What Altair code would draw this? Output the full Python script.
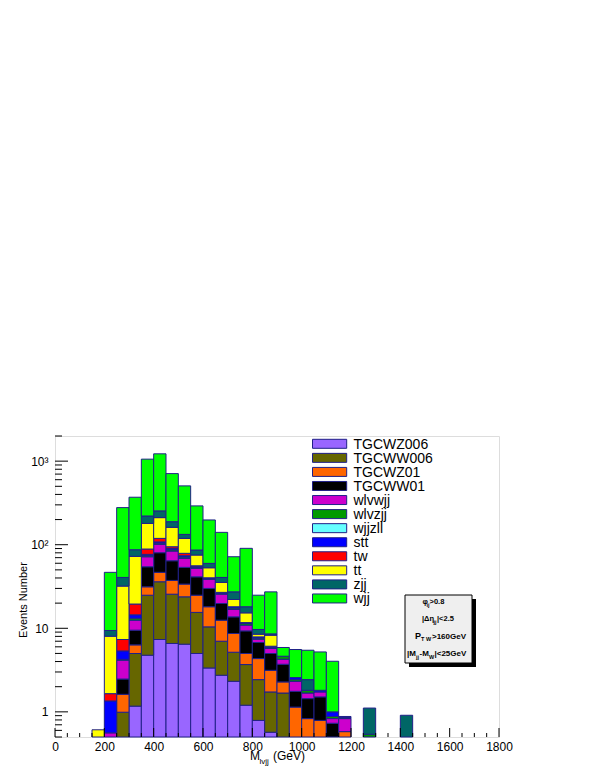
import altair as alt
import pandas as pd

FONT = "Liberation Sans"
STROKE = "#202088"

# ---------------- data ----------------
bin_width = 50
bin_lo = list(range(150, 1450, 50))  # 150 ... 1400

processes = ["TGCWZ006", "TGCWW006", "TGCWZ01", "TGCWW01", "wlvwjj", "wlvzjj",
             "wjjzll", "stt", "tw", "tt", "zjj", "wjj"]
colors = ["#9966ff", "#666600", "#ff6600", "#000000", "#cc00cc", "#009900",
          "#66ffff", "#0000ff", "#ff0000", "#ffff00", "#006666", "#00ff00"]

#            150  200   250    300   350   400   450   500    550   600   650   700   750   800   850   900   950  1000  1050  1100  1150 1200 1250 1300 1350 1400
TGCWZ006 = [0,   0,    0,     1.17, 4.76, 7.34, 6.58, 6.45,  4.99, 3.35, 2.74, 2.32, 1.20, 0.79, 0.57, 0,    0,    0,    0,    0,    0,   0,   0,   0,   0,   0]
TGCWW006 = [0,   0,    0.99,  3.82, 20.1, 28.7, 19.0, 17.35, 10.5, 7.05, 4.26, 2.85, 2.48, 1.64, 1.16, 1.68, 0,    0,    0,    0,    0,   0,   0,   0,   0,   0]
TGCWZ01  = [0,   0,    0.63,  1.34, 6.5,  10.7, 11.8, 10.0,  9.4,  7.7,  5.5,  3.49, 1.31, 1.91, 1.41, 0.60, 1.14, 0.83, 0.79, 0,    0.58,0,   0,   0,   0,   0]
TGCWW01  = [0,   0,    0.85,  3.16, 23.1, 33.5, 26.9, 19.8,  16.4, 11.9, 7.3,  5.04, 4.32, 2.42, 1.85, 1.43, 0.62, 0.61, 0.72, 0.73, 0,   0,   0,   0,   0,   0]
wlvwjj   = [0,   0.56, 1.68,  3.01, 17.3, 20.8, 19.7, 15.1,  10.8, 8.5,  5.8,  3.1,  1.59, 0.64, 0.74, 0.55, 0.56, 0.24, 0.22, 0.10, 0.25,0,   0,   0,   0,   0]
wlvzjj   = [0,   0,    0.10,  0.7,  2.4,  3.5,  3.0,  2.5,   1.5,  1.0,  0.7,  0.7,  0.5,  0.25, 0.2,  0.37, 0.11, 0.13, 0,    0.05, 0.03,0,   0.54,0,   0,   0]
wjjzll   = [0,   0,    0,     0,    0,    0,    0,    0,     0,    0,    0,    0,    0,    0,    0,    0,    0,    0,    0,    0,    0,   0,   0,   0,   0,   0]
stt      = [0,   0.79, 1.11,  1.3,  2.5,  3.5,  3.0,  2.6,   1.0,  0.7,  0.6,  0.6,  0.3,  0.24, 0.17, 0,    0.14, 0,    0.08, 0.12, 0.02,0,   0,   0,   0,   0]
tw       = [0,   0.30, 1.98,  5.0,  12.1, 11.0, 4.6,  5.1,   1.4,  0,    0,    0,    0,    0,    0,    0,    0,    0,    0,    0,    0,   0,   0,   0,   0,   0]
tt       = [0.61,6.39, 24.66, 53.1, 91,   92,   67,   40,    19.3, 12.8, 8.5,  4.0,  3.6,  0.61, 2.17, 0,    0,    0,    0,    0,    0,   0,   0,   0,   0,   0]
zjj      = [0,   1.37, 8.6,   14.5, 41,   43,   27,   14,    11.1, 6.8,  5.2,  5.2,  2.8,  1.18, 0.3,  0,    0,    0.62, 0,    0,    0,   0,   0.57,0,   0,   0.91]
wjj      = [0,   37.3, 237.4, 283,  836,  970,  521,  373,   205,  138,  100,  44.5, 72.4, 15.2, 18.7, 1.26, 3.0,  3.03, 3.4,  3.03, 0,   0,   0,   0,   0,   0]

series = [TGCWZ006, TGCWW006, TGCWZ01, TGCWW01, wlvwjj, wlvzjj, wjjzll, stt, tw, tt, zjj, wjj]

x_major = list(range(0, 1801, 200))
x_minor = [v for v in range(0, 1801, 50) if v % 200 != 0]
y_major = [1, 10, 100, 1000]
y_minor = [k * 10 ** e for e in range(-1, 4) for k in range(2, 10) if 0.5 <= k * 10 ** e <= 2000]

rows = []
for k, (name, vals) in enumerate(zip(processes, series)):
    for lo, v in zip(bin_lo, vals):
        rows.append({"lo": lo, "hi": lo + bin_width, "process": name, "order": k, "value": v})
df = pd.DataFrame(rows)

# ---------------- chart ----------------
W, H = 444, 301
xs = alt.Scale(domain=[0, 1800], nice=False, zero=False)
ys = alt.Scale(type="log", domain=[0.5, 2000], nice=False)
cs = alt.Scale(domain=processes, range=colors)

bars = (
    alt.Chart(df)
    .transform_window(cum="sum(value)", frame=[None, 0], groupby=["lo"], sort=[alt.SortField("order")])
    .transform_filter("datum.value > 0 && datum.cum > 0.5")
    .transform_calculate(base="max(datum.cum - datum.value, 0.5)")
    .mark_rect(stroke=STROKE, strokeWidth=1)
    .encode(
        x=alt.X("lo:Q", scale=xs,
                axis=alt.Axis(values=x_major, ticks=False, domain=False, grid=False, format="d",
                              labelFlush=False, labelOverlap=False,
                              labelFont=FONT, labelFontSize=12, labelColor="black", labelPadding=4,
                              title=None)),
        x2="hi:Q",
        y=alt.Y("base:Q", scale=ys,
                axis=alt.Axis(values=y_major, ticks=False, domain=False, grid=False, format="d",
                              labelFlush=False, labelOverlap=False,
                              labelExpr="datum.value == 1000 ? '10\u00b3' : datum.value == 100 ? '10\u00b2' : datum.label",
                              labelFont=FONT, labelFontSize=12, labelColor="black", labelPadding=7,
                              title=None)),
        y2="cum:Q",
        color=alt.Color("process:N", scale=cs, legend=None),
    )
)

def rules_x(vals, length):
    return alt.Chart(pd.DataFrame({"t": vals})).mark_rule(color="black", strokeWidth=1).encode(
        x=alt.X("t:Q", scale=xs), y=alt.value(H), y2=alt.value(H - length))

def rules_y(vals, length):
    return alt.Chart(pd.DataFrame({"t": vals})).mark_rule(color="black", strokeWidth=1).encode(
        y=alt.Y("t:Q", scale=ys), x=alt.value(0), x2=alt.value(length))

ticks = [rules_x(x_major, 9), rules_x(x_minor, 4), rules_y(y_major, 13), rules_y(y_minor, 7)]

# legend (drawn from the process list)
leg_df = pd.DataFrame({"process": processes, "idx": list(range(len(processes)))})
leg_base = alt.Chart(leg_df).transform_calculate(
    cy="7.8 + datum.idx * 14.06", y0="datum.cy - 4.5", y1="datum.cy + 4.5", ty="datum.cy + 5")
leg_boxes = leg_base.mark_rect(stroke=STROKE, strokeWidth=1).encode(
    x=alt.value(257.5), x2=alt.value(291.7),
    y=alt.Y("y0:Q", scale=None, axis=None), y2="y1:Q",
    color=alt.Color("process:N", scale=cs, legend=None))
leg_text = leg_base.mark_text(align="left", baseline="alphabetic", font=FONT, fontSize=14, color="black").encode(
    x=alt.value(298.5), y=alt.Y("ty:Q", scale=None, axis=None), text="process:N")

one = pd.DataFrame({"a": [0]})

def box(x0, x1, y0, y1, fill, stroke=None):
    kw = {"fill": fill}
    if stroke:
        kw.update(stroke=stroke, strokeWidth=1)
    return alt.Chart(one).mark_rect(**kw).encode(
        x=alt.value(x0), x2=alt.value(x1), y=alt.value(y0), y2=alt.value(y1))

def txt(s, x, y, size, bold=False, align="left", baseline="alphabetic", angle=0):
    return alt.Chart(one).mark_text(
        text=s, font=FONT, fontSize=size, fontWeight="bold" if bold else "normal",
        align=align, baseline=baseline, angle=angle, color="black").encode(
        x=alt.value(x), y=alt.value(y))

cut_box = [
    box(354, 421, 163, 231, "black"),
    box(350, 417, 159, 227, "#efefef", "black"),
    # phi_ij > 0.8
    txt("\u03c6", 367.5, 168, 7.5, True), txt("ij", 371.5, 171, 5.5, True), txt(">0.8", 374.5, 168, 7.5, True),
    # |Delta eta_jj| < 2.5
    txt("|\u0394\u03b7", 367, 185, 7.5, True), txt("jj", 378.5, 188, 5.5, True), txt("|<2.5", 382, 185, 7.5, True),
    # P_T W > 160 GeV
    txt("P", 360, 203, 9, True), txt("T W", 366, 205, 5.5, True), txt(">160GeV", 377, 203, 8, True),
    # |M_jj - M_W| < 25 GeV
    txt("|M", 352, 220, 8, True), txt("jj", 361, 222.5, 5.5, True), txt("-M", 364.5, 220, 8, True),
    txt("W", 374, 222.5, 5.5, True), txt("|<25GeV", 379.5, 220, 8, True),
]

titles = [
    txt("M", 195, 324, 12), txt("lvjj", 204.5, 327.5, 8), txt("(GeV)", 218, 324, 12),
    txt("Events Number", -31, 164, 11, align="center", baseline="middle", angle=270),
]

chart = alt.layer(bars, *ticks, leg_boxes, leg_text, *cut_box, *titles).properties(
    width=W, height=H,
    padding={"left": 47, "top": 428, "right": 60, "bottom": 35},
    autosize=alt.AutoSizeParams(type="none"),
).configure_view(stroke="black", strokeWidth=1).configure(background="white")

chart.save("out.html", embed_options={"renderer": "svg", "actions": False})
